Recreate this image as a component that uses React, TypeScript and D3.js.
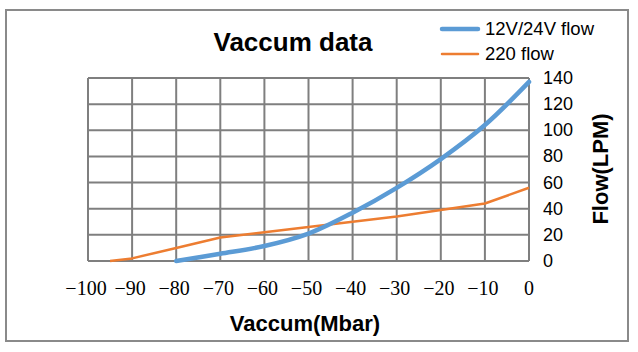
import React, { useRef, useEffect } from 'react';
import * as d3 from 'd3';

// vacuum levels (mbar) and flow (LPM)
const pumpDcVac = [-80, -70, -60, -50, -40, -30, -20, -10, 0];
const pumpDcFlow = [0, 5.5, 11.5, 21, 37, 56, 78, 104, 137];
const pumpAcVac = [-95, -90, -80, -70, -60, -50, -40, -30, -20, -10, 0];
const pumpAcFlow = [0, 2, 10, 18, 22, 26, 30, 34, 39, 44, 56];
const xTicks = [-100, -90, -80, -70, -60, -50, -40, -30, -20, -10, 0];
const yTicks = [0, 20, 40, 60, 80, 100, 120, 140];
const seriesNames = ['12V/24V flow', '220 flow'];

const W = 638;
const H = 352;

const App = () => {
  const svgRef = useRef<SVGSVGElement>(null);

  useEffect(() => {
    const svg = d3.select(svgRef.current);
    svg.selectAll('*').remove();

    const margin = { top: 78, right: 109, bottom: 91, left: 88 };
    const chartWidth = W - margin.left - margin.right;
    const chartHeight = H - margin.top - margin.bottom;

    const x = d3.scaleLinear().domain([-100, 0]).range([0, chartWidth]);
    const y = d3.scaleLinear().domain([0, 140]).range([chartHeight, 0]);

    // outer frame
    svg.append('rect')
      .attr('x', 6).attr('y', 10)
      .attr('width', 622).attr('height', 331)
      .attr('fill', '#fff')
      .attr('stroke', '#8a8a8a')
      .attr('stroke-width', 2);

    // title
    svg.append('text')
      .attr('x', 293).attr('y', 51)
      .attr('text-anchor', 'middle')
      .style('font-family', '"Liberation Sans", Arial, sans-serif')
      .style('font-size', '26px')
      .style('font-weight', 'bold')
      .text('Vaccum data');

    const chart = svg.append('g')
      .attr('transform', `translate(${margin.left}, ${margin.top})`);

    // grid
    chart.selectAll('.vgrid')
      .data(xTicks)
      .enter()
      .append('line')
      .attr('x1', d => x(d)).attr('x2', d => x(d))
      .attr('y1', 0).attr('y2', chartHeight)
      .attr('stroke', '#7f7f7f')
      .attr('stroke-width', 2);

    chart.selectAll('.hgrid')
      .data(yTicks)
      .enter()
      .append('line')
      .attr('x1', 0).attr('x2', chartWidth)
      .attr('y1', d => y(d)).attr('y2', d => y(d))
      .attr('stroke', '#7f7f7f')
      .attr('stroke-width', 2);

    // x tick labels
    chart.selectAll('.xlab')
      .data(xTicks)
      .enter()
      .append('text')
      .attr('x', d => x(d) - (d < 0 ? 2 : 0))
      .attr('y', chartHeight + 34)
      .attr('text-anchor', 'middle')
      .style('font-family', '"Liberation Serif", "Times New Roman", serif')
      .style('font-size', '20px')
      .text(d => (d < 0 ? '\u2212' + Math.abs(d) : String(d)));

    // y tick labels (right side)
    chart.selectAll('.ylab')
      .data(yTicks)
      .enter()
      .append('text')
      .attr('x', chartWidth + 14)
      .attr('y', d => y(d) + 6)
      .style('font-family', '"Liberation Sans", Arial, sans-serif')
      .style('font-size', '18px')
      .text(d => d);

    // lines
    const dcLine = d3.line<number>()
      .x((d, i) => x(pumpDcVac[i]))
      .y(d => y(d))
      .curve(d3.curveCatmullRom.alpha(0.5));

    const acLine = d3.line<number>()
      .x((d, i) => x(pumpAcVac[i]))
      .y(d => y(d));

    chart.append('path')
      .attr('d', acLine(pumpAcFlow))
      .attr('fill', 'none')
      .attr('stroke', '#ed7d31')
      .attr('stroke-width', 2.5)
      .attr('stroke-linejoin', 'round');

    chart.append('path')
      .attr('d', dcLine(pumpDcFlow))
      .attr('fill', 'none')
      .attr('stroke', '#5b9bd5')
      .attr('stroke-width', 4.5)
      .attr('stroke-linecap', 'round');

    // axis titles
    svg.append('text')
      .attr('x', 305).attr('y', 331)
      .attr('text-anchor', 'middle')
      .style('font-family', '"Liberation Sans", Arial, sans-serif')
      .style('font-size', '22px')
      .style('font-weight', 'bold')
      .text('Vaccum(Mbar)');

    svg.append('text')
      .attr('transform', 'translate(608, 169) rotate(-90)')
      .attr('text-anchor', 'middle')
      .style('font-family', '"Liberation Sans", Arial, sans-serif')
      .style('font-size', '22px')
      .style('font-weight', 'bold')
      .text('Flow(LPM)');

    // legend
    const legend = svg.append('g');
    const colors = ['#5b9bd5', '#ed7d31'];
    const widths = [4.5, 2.5];
    seriesNames.forEach((name, i) => {
      const ly = 29 + i * 25;
      legend.append('line')
        .attr('x1', 442).attr('x2', 478)
        .attr('y1', ly).attr('y2', ly)
        .attr('stroke', colors[i])
        .attr('stroke-width', widths[i])
        .attr('stroke-linecap', 'round');
      legend.append('text')
        .attr('x', 485).attr('y', ly + 6)
        .style('font-family', '"Liberation Sans", Arial, sans-serif')
        .style('font-size', '18.5px')
        .text(name);
    });
  }, []);

  return (
    <svg
      ref={svgRef}
      width={W}
      height={H}
      style={{ position: 'absolute', left: 0, top: 0, background: '#fff' }}
    />
  );
};

export default App;
